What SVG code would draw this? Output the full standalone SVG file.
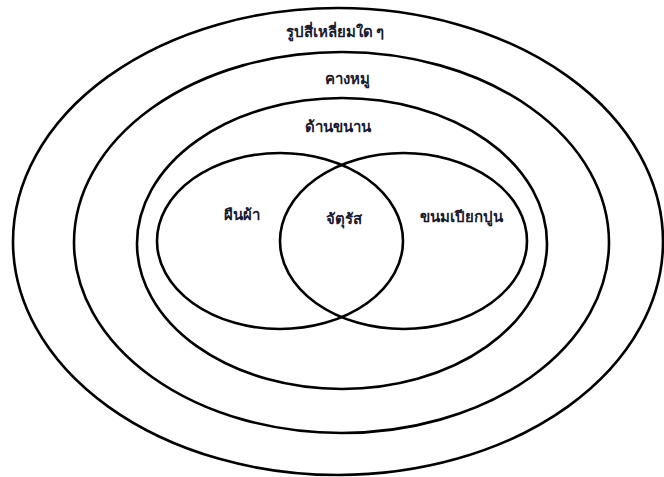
<svg xmlns="http://www.w3.org/2000/svg" width="664" height="477" viewBox="0 0 664 477">
<style>
.e{fill:none;stroke:#000;stroke-width:2.6}
.t{font-family:"Noto Sans","DejaVu Sans",sans-serif;font-weight:bold;font-size:15px;fill:#1a1a2e;text-anchor:middle}
</style>
<rect width="664" height="477" fill="#fff"/>
<g id="n-any"><ellipse class="e" cx="338" cy="241.5" rx="325" ry="233.5"/><text class="t" x="335" y="37">รูปสี่เหลี่ยมใด ๆ</text></g>
<g id="n-trap"><ellipse class="e" cx="341.5" cy="242.5" rx="267.5" ry="190.5"/><text class="t" x="347" y="84">คางหมู</text></g>
<g id="n-para"><ellipse class="e" cx="342" cy="243.5" rx="205" ry="145.5"/><text class="t" x="338" y="132">ด้านขนาน</text></g>
<g id="n-rect"><ellipse class="e" cx="280" cy="241" rx="123" ry="88"/><text class="t" x="242" y="220">ผืนผ้า</text></g>
<g id="n-rhom"><ellipse class="e" cx="403.5" cy="241" rx="123.5" ry="88"/><text class="t" x="461" y="222">ขนมเปียกปูน</text></g>
<g id="n-sq"><text class="t" x="344" y="224">จัตุรัส</text></g>
<g id="connectors"></g>
</svg>
